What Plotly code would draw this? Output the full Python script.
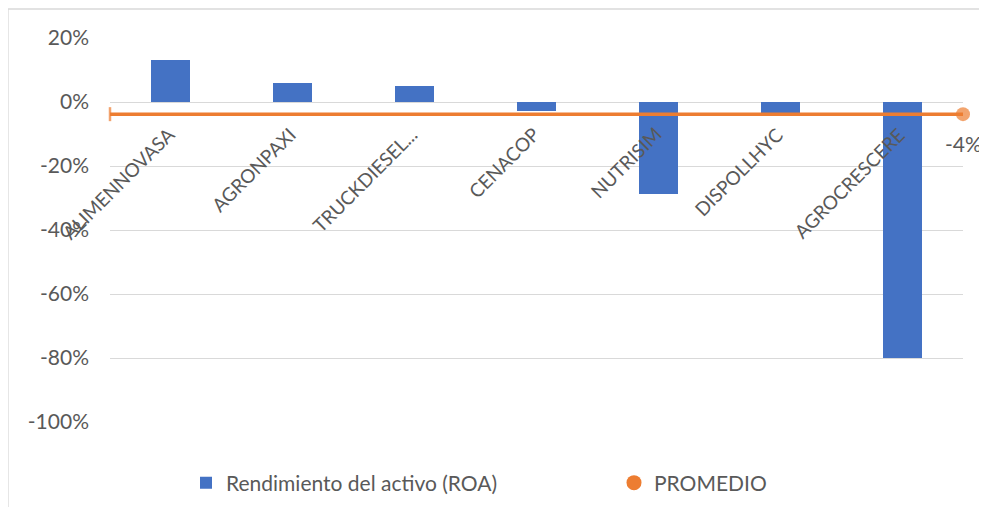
import plotly.graph_objects as go

categories = ["ALIMENNOVASA", "AGRONPAXI", "TRUCKDIESEL...", "CENACOP",
              "NUTRISIM", "DISPOLLHYC", "AGROCRESCERE"]
roa = [0.132, 0.058, 0.049, -0.029, -0.286, -0.035, -0.80]
promedio = -0.038
promedio_label = f"{round(promedio * 100):.0f}%"
y_ticks = [0.2, 0.0, -0.2, -0.4, -0.6, -0.8, -1.0]
y_tick_labels = [f"{round(v * 100):.0f}%" for v in y_ticks]

BLUE = "#4472C4"
ORANGE = "#ED7D31"
GRAY = "#595959"
FONT = "Lato"

# page body has an 8px margin; figure is sized/offset to compensate
W, H = 979, 499
L, T = 102, 30
PW, PH = 853, 384

n = len(categories)
xs = list(range(n))

fig = go.Figure()
fig.add_trace(go.Bar(
    x=xs, y=roa, name="Rendimiento del activo (ROA)",
    marker=dict(color=BLUE, line=dict(width=0)), width=0.32,
))
fig.add_trace(go.Scatter(
    x=[-0.5, n - 0.5], y=[promedio, promedio], mode="lines+markers",
    line=dict(color=ORANGE, width=3.5),
    marker=dict(symbol=["line-ns", "circle"], size=[10, 14], color=ORANGE,
                line=dict(color=ORANGE, width=[2.5, 0])),
    showlegend=False, cliponaxis=False, hoverinfo="skip",
))
fig.add_trace(go.Scatter(
    x=[None], y=[None], mode="markers", name="PROMEDIO",
    marker=dict(symbol="circle", size=15, color=ORANGE),
))

annotations = []
for i, c in enumerate(categories):
    annotations.append(dict(
        x=i, y=-0.056, xref="x", yref="y", text=c, showarrow=False,
        textangle=-45, xanchor="right", yanchor="top", xshift=10,
        font=dict(family=FONT, size=19, color=GRAY),
    ))
annotations.append(dict(
    x=n - 0.5, y=promedio, xref="x", yref="y", text=promedio_label,
    showarrow=False, xanchor="center", yanchor="middle", xshift=0, yshift=-29,
    font=dict(family=FONT, size=21, color=GRAY),
))

fig.update_layout(
    width=W, height=H,
    margin=dict(l=L, r=W - L - PW, t=T, b=H - T - PH, autoexpand=False),
    paper_bgcolor="white", plot_bgcolor="white",
    font=dict(family=FONT, color=GRAY),
    bargap=0,
    xaxis=dict(range=[-0.5, n - 0.5], showticklabels=False, showgrid=False,
               zeroline=False, showline=False, fixedrange=True),
    yaxis=dict(range=[-1.0, 0.2], tickvals=y_ticks, ticktext=y_tick_labels,
               showgrid=True, gridcolor="#D9D9D9", gridwidth=1.3,
               zeroline=True, zerolinecolor="#D9D9D9", zerolinewidth=1.3,
               showline=False, ticks="", ticklabelstandoff=20,
               tickfont=dict(family=FONT, size=21, color=GRAY)),
    legend=dict(orientation="h", xref="container", yref="container",
                x=178 / W, y=1 - 475 / H, xanchor="left", yanchor="middle",
                font=dict(family=FONT, size=21, color=GRAY),
                entrywidth=383, entrywidthmode="pixels", bgcolor="rgba(0,0,0,0)"),
    annotations=annotations,
    shapes=[dict(type="rect", xref="paper", yref="paper",
                 x0=(0 - L) / PW, x1=1.05, y0=-0.3, y1=(T + PH - 1) / PH,
                 line=dict(color="#D9D9D9", width=1.3), fillcolor="rgba(0,0,0,0)",
                 layer="below")],
)

fig.write_html("out.html")
